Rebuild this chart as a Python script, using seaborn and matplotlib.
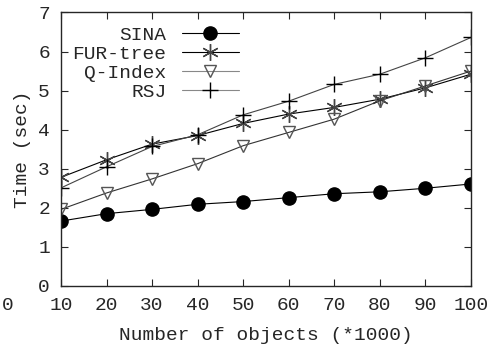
import pandas as pd
import matplotlib
matplotlib.use("Agg")
import matplotlib.pyplot as plt
import seaborn as sns

objects = [10, 20, 30, 40, 50, 60, 70, 80, 90, 100]
sina = [1.66, 1.85, 1.96, 2.09, 2.16, 2.26, 2.36, 2.41, 2.50, 2.61]
fur_tree = [2.78, 3.23, 3.63, 3.85, 4.16, 4.40, 4.57, 4.78, 5.07, 5.42]
q_index = [1.96, 2.38, 2.74, 3.13, 3.59, 3.93, 4.27, 4.74, 5.12, 5.50]
rsj = [2.51, 3.05, 3.57, 3.87, 4.38, 4.73, 5.16, 5.42, 5.84, 6.36]

sns.set_style("ticks")
plt.rcParams['font.family'] = ['Liberation Mono', 'DejaVu Sans Mono']

fig, ax = plt.subplots(figsize=(4.9, 3.47), dpi=100)
fig.subplots_adjust(left=0.1245, right=0.961, top=0.964, bottom=0.176)

# line color, marker color, marker, size, filled
styles = {
    'SINA': (sina, '#000000', '#000000', 'o', 9.5, True),
    'FUR-tree': (fur_tree, '#000000', '#444444', (6, 2, 0), 12, False),
    'Q-Index': (q_index, '#333333', '#555555', 'v', 9, False),
    'RSJ': (rsj, '#444444', '#000000', '+', 12, False),
}

for name, (vals, lc, mc, mk, ms, filled) in styles.items():
    df = pd.DataFrame({'x': objects, 'y': vals})
    sns.lineplot(data=df, x='x', y='y', ax=ax, color=lc, linewidth=0.8,
                 marker=mk, markersize=ms, label=name,
                 markerfacecolor=mc if filled else 'none',
                 markeredgecolor=mc, markeredgewidth=1.0)

ax.set_xlim(10, 100)
ax.set_ylim(0, 7)
ax.set_xticks(objects)
ax.set_yticks(range(8))
ax.tick_params(direction='in', top=True, right=True, length=5, width=0.8,
               labelsize=14, pad=8)
for s in ax.spines.values():
    s.set_visible(True)
    s.set_linewidth(1.0)

ax.set_xlabel('Number of objects (*1000)', fontsize=14, labelpad=9)
ax.set_ylabel('Time (sec)', fontsize=14, labelpad=5)

fig.text(0.004, 0.12, '0', fontsize=14, va='center')

# legend: gray lines for the last two entries as in the reference
leg = ax.legend(loc='upper left', frameon=False, markerfirst=False,
                fontsize=14, handlelength=2.9, labelspacing=0.08,
                handletextpad=0.8,
                bbox_to_anchor=(-0.005, 1.0), borderaxespad=0.3)
for line, c in zip(leg.get_lines(), ['#000000', '#000000', '#888888', '#888888']):
    line.set_color(c)

plt.savefig('out.png', dpi=100)
